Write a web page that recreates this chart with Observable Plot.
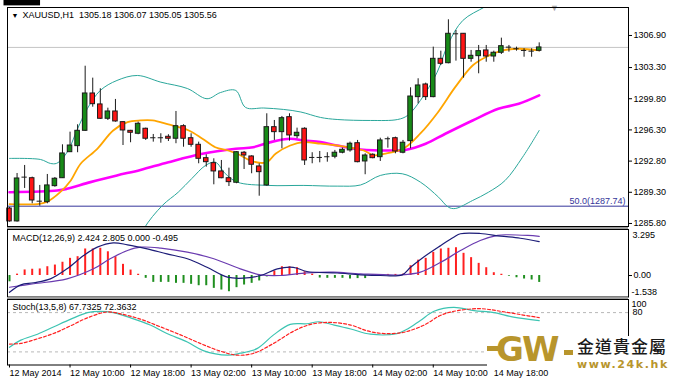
<!DOCTYPE html>
<html><head><meta charset="utf-8">
<script src="https://cdn.jsdelivr.net/npm/d3@7"></script>
<script src="https://cdn.jsdelivr.net/npm/@observablehq/plot@0.6"></script>
<style>
body{margin:0;background:#fff;}
#chart{position:relative;width:685px;height:385px;overflow:hidden;background:#fff;font-family:"Liberation Sans",Arial,sans-serif;}
#chart svg{position:absolute;left:0;}
.ov{position:absolute;white-space:nowrap;}
</style></head><body><div id="chart"></div>
<script>
// ---------- DATA ----------
const symbol = "XAUUSD,H1";
const opens  = [1287.48,1286.03,1291.00,1290.88,1288.30,1288.19,1289.99,1290.88,1293.80,1294.48,
 1296.20,1300.39,1299.16,1297.55,1298.37,1297.17,1296.20,1295.87,1296.43,1295.42,
 1295.42,1295.53,1295.31,1296.72,1295.37,1294.63,1293.13,1292.57,1291.64,1290.88,
 1290.37,1293.74,1293.32,1292.20,1290.07,1296.61,1296.05,1297.73,1295.60,1296.43,
 1293.21,1293.21,1293.29,1293.29,1293.74,1294.00,1294.81,1292.76,1293.51,1293.24,
 1295.31,1295.37,1293.74,1295.04,1299.98,1301.40,1299.98,1304.28,1303.79,1307.09,
 1307.09,1304.28,1304.58,1305.22,1304.54,1304.96,1305.59,1305.41,1305.22,1305.14,1305.18];
const highs  = [1287.60,1291.41,1292.31,1291.00,1290.07,1291.30,1290.96,1294.63,1296.05,1296.88,
 1303.45,1302.11,1300.92,1298.74,1299.72,1297.20,1296.25,1297.17,1296.50,1295.79,
 1295.87,1295.76,1298.37,1296.88,1295.87,1294.93,1293.51,1293.06,1292.87,1292.01,
 1293.85,1293.88,1293.40,1292.50,1298.11,1297.36,1297.81,1298.11,1296.50,1296.54,
 1293.74,1293.88,1293.74,1294.00,1294.25,1294.93,1295.12,1293.62,1293.62,1295.37,
 1295.49,1295.49,1295.12,1301.03,1302.04,1301.55,1305.59,1305.14,1308.66,1307.46,
 1307.12,1305.22,1305.78,1305.78,1305.14,1306.60,1305.78,1305.59,1305.41,1305.41,1306.07];
const lows   = [1285.95,1285.95,1289.73,1288.01,1287.74,1288.01,1289.87,1290.85,1293.80,1293.74,
 1296.13,1298.85,1297.47,1297.36,1297.17,1294.55,1294.86,1295.76,1295.12,1294.93,
 1294.81,1295.00,1294.75,1294.36,1294.36,1292.50,1292.12,1290.14,1290.82,1289.95,
 1290.26,1291.86,1291.38,1288.86,1289.99,1295.12,1294.18,1295.04,1295.31,1292.31,
 1292.50,1292.61,1292.68,1293.06,1293.62,1293.80,1292.61,1291.27,1293.06,1292.76,
 1294.25,1293.62,1293.62,1294.18,1299.23,1299.60,1299.91,1303.53,1303.72,1304.02,
 1302.11,1303.90,1302.60,1303.90,1303.90,1304.77,1305.03,1305.14,1304.46,1304.46,1305.05];
const closes = [1286.03,1290.85,1291.00,1288.38,1288.30,1290.07,1290.82,1293.66,1294.55,1296.20,
 1300.39,1299.19,1297.55,1298.37,1297.25,1296.24,1295.98,1296.99,1295.31,1295.42,
 1295.42,1295.31,1296.72,1295.31,1294.63,1293.06,1292.68,1291.64,1290.88,1290.44,
 1293.80,1293.43,1292.39,1291.56,1296.61,1296.05,1297.62,1295.68,1295.98,1292.87,
 1293.21,1293.21,1293.29,1293.74,1294.07,1294.75,1292.68,1293.43,1293.13,1295.12,
 1295.31,1293.88,1294.86,1300.05,1301.29,1299.98,1304.28,1303.72,1307.09,1307.09,
 1304.28,1304.62,1305.14,1304.54,1304.96,1305.70,1305.59,1305.41,1305.22,1305.14,1305.56];

const priceTicks = [1306.90,1303.30,1299.80,1296.30,1292.80,1289.30,1285.80];
const priceDomain = [1285.46, 1310.04];
const fibLevel = 1287.74;
const fibText = "50.0(1287.74)";
const shiftBar = 72;

const bbUpperAt  = [0,4.1,5.4,6.2,7.0,7.9,8.9,10.3,12.0,14.2,16.9,20.0,23.5,26.1,27.9,29.9,31.2,33.6,36.2,38.5,41.1,43.3,47.7,51.3,52.6,54.3,56.5,58.0,59.9,62.9,66.2,70];
const bbUpperVal = [1293.10,1292.98,1292.54,1292.54,1293.10,1294.22,1296.24,1298.71,1300.73,1301.85,1302.41,1301.66,1300.95,1299.80,1300.50,1300.73,1298.82,1298.76,1298.60,1298.31,1297.70,1297.47,1297.36,1297.47,1297.92,1299.61,1302.75,1306.00,1308.58,1310.15,1311.73,1312.85];
const bbLowerAt  = [16.0,17.7,20.2,22.3,24.1,25.9,27.2,28.5,30.1,34.2,38.9,43.3,46.4,49.0,51.9,54.3,56.7,58.0,58.9,61.2,63.3,65.5,67.8,70];
const bbLowerVal = [1281.65,1285.13,1287.82,1289.31,1290.85,1292.31,1292.68,1291.41,1290.44,1290.07,1290.07,1289.99,1290.12,1291.19,1291.38,1290.44,1288.75,1287.63,1287.48,1288.38,1289.31,1290.63,1293.24,1296.24];
const fastMaAt   = [0,3.7,5.0,6.7,8.1,9.4,11.6,13.7,15.6,17.3,18.9,21.0,23.7,25.5,27.2,28.9,30.1,31.8,33.2,34.1,35.2,37.1,38.9,41.1,43.3,46.8,48.1,49.5,52.1,54.3,56.6,58.9,61.2,62.9,65.2,67.3,70];
const fastMaVal  = [1287.98,1287.98,1288.25,1289.31,1290.63,1292.50,1294.18,1296.24,1297.17,1297.36,1297.36,1296.91,1296.24,1295.31,1294.36,1293.99,1293.62,1292.87,1292.59,1292.70,1293.66,1294.55,1294.93,1294.75,1294.55,1293.99,1293.45,1293.62,1294.22,1295.90,1298.26,1301.10,1303.53,1304.46,1305.22,1305.41,1305.22];
const slowMaAt   = [0,6.3,7.6,10.7,14.2,17.3,21.0,25.5,29.9,32.2,34.5,37.1,38.9,41.1,43.3,46.4,50.4,52.3,55.0,57.6,61.2,64.6,67.3,70];
const slowMaVal  = [1289.31,1289.50,1289.69,1290.44,1291.19,1291.81,1292.68,1293.62,1294.18,1294.36,1294.93,1295.31,1295.12,1294.93,1294.55,1294.11,1293.99,1294.05,1294.75,1295.87,1297.36,1298.67,1299.23,1300.17];

const macdHeader = "MACD(12,26,9) 2.424 2.805 0.000 -0.495";
const macdDomain = [-1.538, 3.295];
const macdHist = [-0.45,0.1,0.4,0.45,0.47,0.63,0.75,0.95,1.23,1.35,
 1.9,1.9,1.95,1.7,1.35,0.8,0.39,0.09,-0.2,-0.49,
 -0.49,-0.49,-0.56,-0.56,-0.63,-0.73,-0.73,-0.92,-1.04,-1.16,
 -0.87,-0.68,-0.56,-0.39,-0.1,0.32,0.63,0.63,0.56,0.27,
 0.1,-0.18,-0.2,-0.2,-0.2,-0.25,-0.22,-0.22,0.03,0.06,
 0.08,0.08,0.1,0.7,1.1,1.23,1.66,1.9,1.95,1.99,
 1.59,1.28,0.87,0.56,0.2,0.09,-0.05,-0.16,-0.25,-0.32,-0.495];
const macdAt  = [0,1.5,3.2,5.4,7.6,9.8,11.6,13.7,15.6,18.2,20.8,23.5,26.1,28.8,30.9,33.2,35.4,37.5,39.3,43.3,46.4,49.0,51.9,53.0,54.7,57.0,58.7,59.6,62.2,64.9,67.5,70];
const macdVal = [-1.20,-0.67,-0.52,-0.24,0.48,1.43,2.03,2.34,2.20,1.91,1.55,1.20,0.59,-0.12,-0.19,0.00,0.48,0.59,0.29,0.18,0.05,0.00,0.05,0.59,1.31,2.15,2.74,2.99,3.01,2.82,2.67,2.424];
const signalAt  = [0,3.2,7.6,11.1,13.3,15.6,17.3,20.0,23.5,27.0,30.5,33.2,35.8,39.3,42.8,46.4,51.9,54.3,57.0,59.6,62.2,64.5,65.8,68.5,70];
const signalVal = [-0.84,-0.59,-0.24,0.48,1.20,1.79,2.03,1.96,1.67,1.20,0.48,0.05,0.00,0.19,0.24,0.12,0.05,0.24,0.95,1.79,2.51,2.88,2.92,2.87,2.805];

const stochHeader = "Stoch(13,5,8) 67.7325 72.3632";
const stochLevels = [80, 20];
const stochLabelled = [80];
const stochKAt  = [0,1.5,3.7,5.8,8.1,10.3,12.0,13.7,16.0,18.6,20.8,23.5,25.6,28.8,30.5,32.7,34.9,37.1,39.3,40.9,42.9,45.1,47.7,51.2,52.6,54.3,56.1,58.7,61.4,64.0,66.6,70];
const stochKVal = [27,38,47,58,70,80,82,80,72,61,48,35,22,15,18,25,46,62,63,66,61,55,47,48,55,68,82,88,83,80,73,67.7325];
const stochDAt  = [0,1.5,3.7,5.8,8.1,10.3,12.9,14.7,17.3,20.0,22.6,25.2,27.9,30.1,32.3,34.9,37.6,39.8,42.4,45.1,47.3,49.5,52.1,54.8,57.0,59.2,62.2,64.9,67.5,70];
const stochDVal = [32,33,40,48,60,72,81,78,70,58,46,33,21,15,18,33,52,62,65,61,52,48,50,61,76,83,86,82,77,72.3632];

const timeTickBars = [0,8,16,24,32,40,48,56,64];
const timeLabels = ["12 May 2014","12 May 10:00","12 May 18:00","13 May 02:00","13 May 10:00","13 May 18:00","14 May 02:00","14 May 10:00","14 May 18:00"];

// ---------- BUILD ----------
const W = 685, ML = 7, MR = 57;
const xDomain = [-0.264, 81.80];
const font = "Liberation Sans, Arial, sans-serif";
const pts = (at, val) => at.map((x, k) => ({x, y: val[k]}));
const candles = opens.map((o, i) => ({i, o, h: highs[i], l: lows[i], c: closes[i]}));
const last = candles[candles.length - 1];
const fmt2 = d => d.toFixed(2);
const styleBase = {fontFamily: font, fontSize: "9px", background: "transparent", color: "#000", overflow: "visible"};
const GREEN = "#178a17", RED = "#ff1414", EDGE = "#1a1a1a";

const mainHeader = `${symbol}\u00a0 ${fmt2(last.o)} ${fmt2(last.h)} ${fmt2(last.l)} ${fmt2(last.c)}`;

const main = Plot.plot({
  width: W, height: 228, marginLeft: ML, marginRight: MR, marginTop: 7, marginBottom: 2,
  x: {domain: xDomain, axis: null},
  y: {domain: priceDomain},
  style: styleBase,
  marks: [
    Plot.ruleY([last.c], {stroke: "#c4c4c4"}),
    Plot.ruleY([fibLevel], {stroke: "#34349a"}),
    Plot.line(pts(bbUpperAt, bbUpperVal), {x: "x", y: "y", stroke: "#2aa79b", strokeWidth: 1, curve: "catmull-rom", clip: true}),
    Plot.line(pts(bbLowerAt, bbLowerVal), {x: "x", y: "y", stroke: "#2aa79b", strokeWidth: 1, curve: "catmull-rom", clip: true}),
    Plot.line(pts(slowMaAt, slowMaVal), {x: "x", y: "y", stroke: "#ff00ff", strokeWidth: 2.6, curve: "catmull-rom"}),
    Plot.line(pts(fastMaAt, fastMaVal), {x: "x", y: "y", stroke: "#ffa500", strokeWidth: 1.8, curve: "catmull-rom"}),
    Plot.ruleX(candles, {x: "i", y1: "l", y2: "h", stroke: EDGE, strokeWidth: 1}),
    Plot.rect(candles.filter(d => d.o !== d.c), {x1: d => d.i - 0.3, x2: d => d.i + 0.3, y1: "o", y2: "c",
      fill: d => d.c > d.o ? GREEN : RED, stroke: EDGE, strokeWidth: 1}),
    Plot.ruleY(candles.filter(d => d.o === d.c), {x1: d => d.i - 0.35, x2: d => d.i + 0.35, y: "c", stroke: EDGE, strokeWidth: 1}),
    Plot.text(["\u25BC"], {frameAnchor: "top-left", dx: 4, dy: 8, fontSize: 7, textAnchor: "start", lineAnchor: "middle", fill: "#000"}),
    Plot.text([mainHeader], {frameAnchor: "top-left", dx: 15, dy: 8, textAnchor: "start", lineAnchor: "middle", fill: "#000"}),
    Plot.text([fibText], {y: () => fibLevel, frameAnchor: "right", dx: -3, dy: -5, textAnchor: "end", lineAnchor: "middle", fill: "#34349a"}),
    Plot.text([shiftBar], {x: d => d, frameAnchor: "top", dy: 1, text: () => "\u25BC", fontSize: 9, fill: "#a8a8a8", lineAnchor: "middle"}),
    Plot.axisY({anchor: "right", ticks: priceTicks, tickFormat: fmt2, tickSize: 3, tickPadding: 2, fontSize: 9, label: null}),
    Plot.text([last.c], {y: d => d, frameAnchor: "right", dx: 5, text: fmt2, textAnchor: "start", lineAnchor: "middle", fill: "white"}),
    Plot.frame({stroke: "#000"})
  ]
});

const macd = Plot.plot({
  width: W, height: 70, marginLeft: ML, marginRight: MR, marginTop: 1, marginBottom: 1.5,
  x: {domain: xDomain, axis: null},
  y: {domain: macdDomain},
  style: styleBase,
  marks: [
    Plot.ruleX(macdHist.map((v, i) => ({i, v})), {x: "i", y1: 0, y2: "v", stroke: d => d.v >= 0 ? "#ff2020" : "#1f8f1f", strokeWidth: 2}),
    Plot.line(pts(signalAt, signalVal), {x: "x", y: "y", stroke: "#6a3bb0", strokeWidth: 1.2, curve: "catmull-rom"}),
    Plot.line(pts(macdAt, macdVal), {x: "x", y: "y", stroke: "#1c1c78", strokeWidth: 1.2, curve: "catmull-rom"}),
    Plot.text([macdHeader], {frameAnchor: "top-left", dx: 5, dy: 9, textAnchor: "start", lineAnchor: "middle", fill: "#000"}),
    Plot.axisY({anchor: "right", ticks: [0], tickFormat: fmt2, tickSize: 3, tickPadding: 2, fontSize: 9, label: null}),
    Plot.text([macdDomain[1]], {frameAnchor: "top-right", dx: 4, dy: 2, text: d => d.toFixed(3), textAnchor: "start", lineAnchor: "top", fill: "#000"}),
    Plot.text([macdDomain[0]], {frameAnchor: "bottom-right", dx: 3, dy: -2, text: d => d.toFixed(3), textAnchor: "start", lineAnchor: "bottom", fill: "#000"}),
    Plot.frame({stroke: "#000"})
  ]
});

const stoch = Plot.plot({
  width: W, height: 87, marginLeft: ML, marginRight: MR, marginTop: 1, marginBottom: 20.5,
  x: {domain: xDomain},
  y: {domain: [0, 100]},
  style: styleBase,
  marks: [
    Plot.ruleY(stochLevels, {stroke: "#b8b8b8", strokeDasharray: "3,3"}),
    Plot.line(pts(stochKAt, stochKVal), {x: "x", y: "y", stroke: "#3cc4b2", strokeWidth: 1.2, curve: "catmull-rom"}),
    Plot.line(pts(stochDAt, stochDVal), {x: "x", y: "y", stroke: "#ff2020", strokeWidth: 1.2, strokeDasharray: "3,2", curve: "catmull-rom"}),
    Plot.text([stochHeader], {frameAnchor: "top-left", dx: 5, dy: 8, textAnchor: "start", lineAnchor: "middle", fill: "#000"}),
    Plot.axisY({anchor: "right", ticks: stochLabelled, tickFormat: d => String(d), tickSize: 0, tickPadding: 4, fontSize: 9, label: null}),
    Plot.text([100], {frameAnchor: "top-right", dx: 3, dy: 1, text: d => String(d), textAnchor: "start", lineAnchor: "top", fill: "#000"}),
    Plot.axisX({anchor: "bottom", ticks: timeTickBars, tickFormat: d => timeLabels[timeTickBars.indexOf(d)], tickSize: 3, tickPadding: 2, textAnchor: "start", fontSize: 9, label: null}),
    Plot.frame({stroke: "#000"})
  ]
});

const root = document.getElementById("chart");
main.style.top = "0px";
macd.style.top = "228px";
stoch.style.top = "298px";
root.append(main, macd, stoch);

// black box behind current price label
for (const t of main.querySelectorAll("text")) {
  if (t.textContent === fmt2(last.c)) {
    const b = t.getBBox();
    const r = document.createElementNS("http://www.w3.org/2000/svg", "rect");
    r.setAttribute("x", b.x - 2); r.setAttribute("y", b.y);
    r.setAttribute("width", b.width + 4); r.setAttribute("height", b.height);
    r.setAttribute("fill", "#000");
    t.parentNode.insertBefore(r, t);
  }
}

// separators between panels
function div(css, html) { const d = document.createElement("div"); d.className = "ov"; d.style.cssText = css; if (html) d.innerHTML = html; root.append(d); return d; }
div("left:7px;top:227px;width:621px;height:2px;background:#9c9c9c;");
div("left:7px;top:297px;width:621px;height:2px;background:#9c9c9c;");

// watermark logo
const GOLD = "#b8952c";
div("left:487px;top:336px;width:186px;height:32px;background:#fff;");
div(`left:487px;top:346px;width:11px;height:5px;background:${GOLD};`);
div(`left:564px;top:350px;width:9px;height:5px;background:${GOLD};`);
div(`left:496px;top:332px;font:bold 34px 'DejaVu Sans';color:${GOLD};letter-spacing:-2px;line-height:34px;`, "GW");
div("left:577px;top:333px;font:500 17px 'Noto Sans CJK TC';color:#1a1a1a;line-height:normal;letter-spacing:1px;", "金道貴金屬");
div(`left:577px;top:358px;font:bold 11px 'DejaVu Sans';color:${GOLD};line-height:normal;letter-spacing:1.6px;`, "www.24k.hk");
</script>
</body></html>
